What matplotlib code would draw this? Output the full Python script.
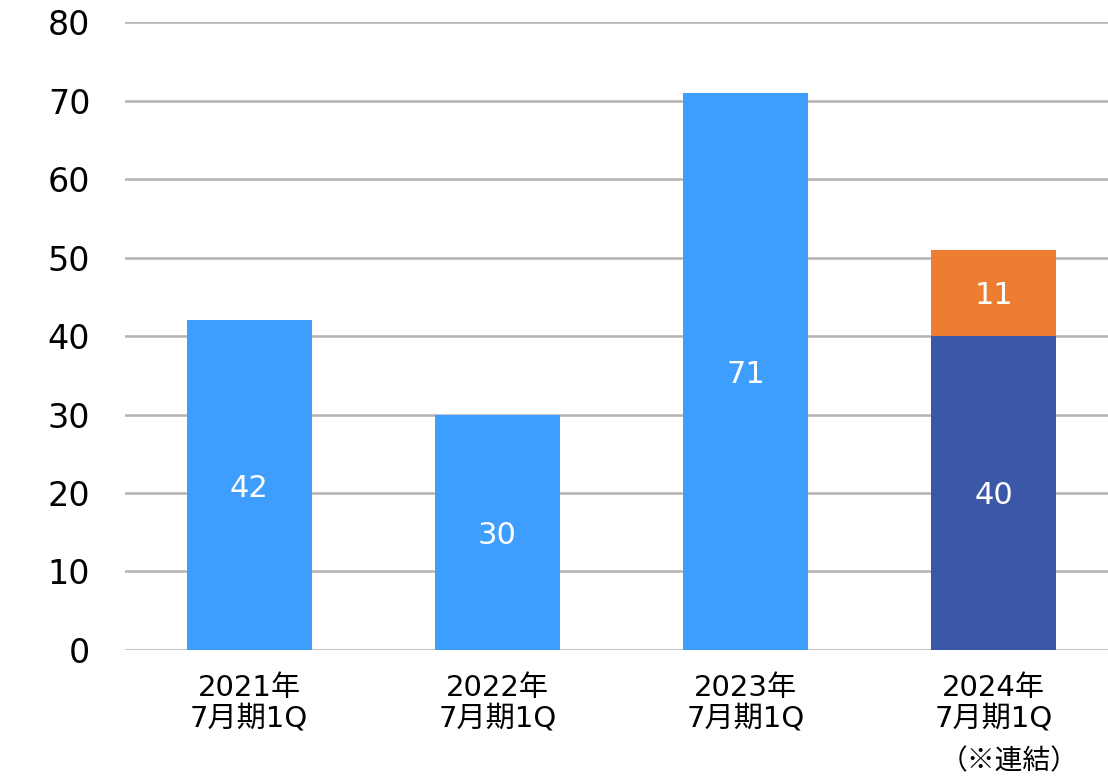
import matplotlib
matplotlib.use("Agg")
import matplotlib.pyplot as plt
import numpy as np

plt.rcParams['font.family'] = ['DejaVu Sans', 'Noto Sans CJK JP']

categories = ["2021年\n7月期1Q", "2022年\n7月期1Q", "2023年\n7月期1Q", "2024年\n7月期1Q"]
note_label = "（※連結）"
base_values = [42, 30, 71, 40]
consolidated_extra = [0, 0, 0, 11]
yticks = [0, 10, 20, 30, 40, 50, 60, 70, 80]

light_blue = "#3d9efd"
dark_blue = "#3b58a8"
orange = "#ed7d31"

fig = plt.figure(figsize=(11.08, 7.76), dpi=100)
ax = fig.add_axes([0.1128, 0.1624, 0.8872, 0.8092])

x = np.arange(len(categories))
base_colors = [light_blue, light_blue, light_blue, dark_blue]
ax.bar(x, base_values, width=0.503, color=base_colors, zorder=3)
ax.bar(x, consolidated_extra, bottom=base_values, width=0.503, color=orange, zorder=3)

for i, v in enumerate(base_values):
    ax.text(x[i], v / 2, str(v), ha='center', va='center_baseline', color='white', fontsize=22, zorder=4)
for i, v in enumerate(consolidated_extra):
    if v:
        ax.text(x[i], base_values[i] + v / 2, str(v), ha='center', va='center_baseline', color='white', fontsize=22, zorder=4)

ax.set_ylim(0, 80)
ax.set_xlim(-0.5, 3.46)
ax.set_yticks(yticks)
ax.set_yticklabels([str(t) for t in yticks], fontsize=24)
ax.set_xticks(x)
ax.set_xticklabels(categories, fontsize=21, linespacing=1.15)
ax.tick_params(axis='both', length=0)
ax.tick_params(axis='y', pad=25)
ax.tick_params(axis='x', pad=17)
ax.grid(axis='y', color='#b3b3b3', linewidth=1.8, zorder=0)
for s in ax.spines.values():
    s.set_visible(False)

ax.text(3.06, -0.177, note_label, transform=ax.get_xaxis_transform(), ha='center', va='center',
        fontsize=20, family=['Noto Sans CJK JP', 'DejaVu Sans'])

fig.savefig("out.png", dpi=100)
